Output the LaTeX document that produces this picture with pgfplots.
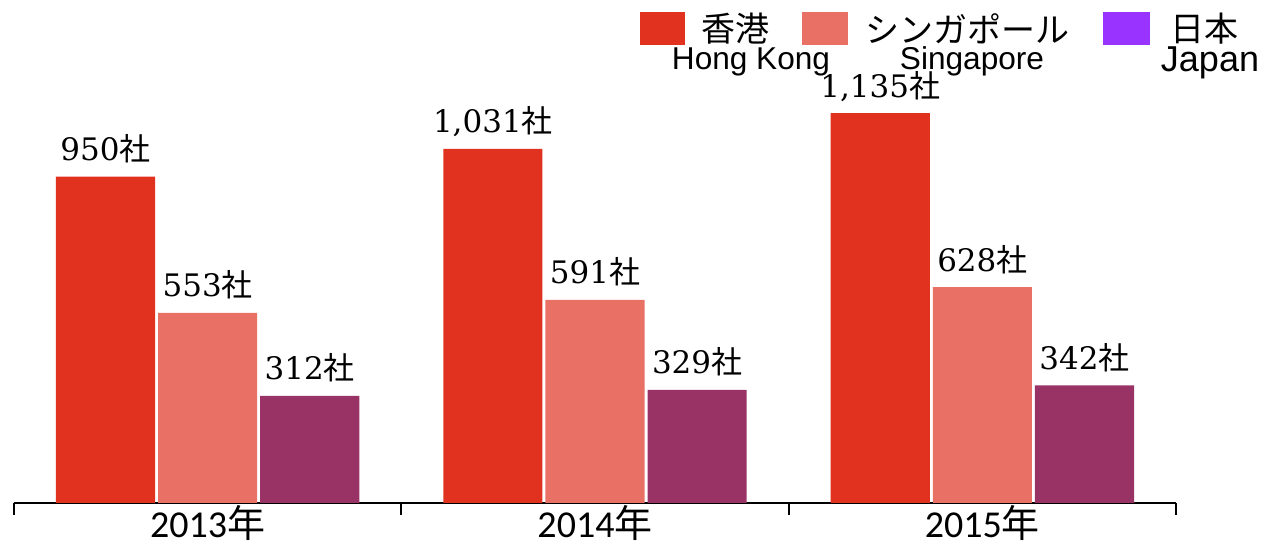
\documentclass[border=0pt]{standalone}
\usepackage{fontspec}
\usepackage{pgfplots}
\pgfplotsset{compat=1.18}
\setmainfont{Carlito}
\newfontfamily\cjk{Noto Sans CJK JP}
\newfontfamily\numfont{DejaVu Serif}
\newfontfamily\enfont{Liberation Sans}

\definecolor{hk}{RGB}{224,50,30}
\definecolor{sg}{RGB}{232,112,100}
\definecolor{jp}{RGB}{153,51,102}
\definecolor{jpkey}{RGB}{153,51,255}

\pgfplotstableread{
x    hk    sg   jp
0.5  950   553  312
1.5  1031  591  329
2.5  1135  628  342
}\shares

\begin{document}
\begin{tikzpicture}
\begin{axis}[
    name=ax,
    scale only axis,
    width=581pt, height=251.5pt,
    xmin=0, xmax=3,
    ymin=0, ymax=1464,
    clip=false,
    axis x line=bottom,
    axis y line=none,
    x axis line style={-, line width=1pt},
    xtick={0,1,2,3},
    xticklabels={2013{\cjk 年},2014{\cjk 年},2015{\cjk 年}},
    x tick label as interval,
    tick align=outside,
    major tick length=6pt,
    x tick style={line width=1pt, black},
    xticklabel style={font=\fontsize{19}{21}\selectfont, inner sep=0pt, text height=12pt, text depth=0pt, yshift=1pt},
    ybar,
    bar width=0.256,
    /pgf/number format/.cd, 1000 sep={,}, assume math mode=true,
    /pgfplots/.cd,
    nodes near coords={{\numfont\pgfmathprintnumber{\pgfplotspointmeta}}{\cjk 社}},
    nodes near coords style={font=\fontsize{15.5}{17}\selectfont, anchor=base, inner sep=0pt, yshift=8pt, black},
]
\addplot[fill=hk, draw=none, bar shift=-0.2636] table[x=x, y=hk] {\shares};
\addplot[fill=sg, draw=none, bar shift=0] table[x=x, y=sg] {\shares};
\addplot[fill=jp, draw=none, bar shift=0.2636] table[x=x, y=jp] {\shares};
\end{axis}

% legend
\begin{scope}[shift={(ax.south west)}, x=1pt, y=1pt]
  \fill[hk] (313,229) rectangle (335.5,245.5);
  \node[anchor=west, inner sep=0pt, font=\cjk\fontsize{17}{19}\selectfont] at (343.5,237) {香港};
  \node[anchor=base, inner sep=0pt, font=\enfont\fontsize{15.8}{18}\selectfont] at (368.5,216.5) {Hong Kong};
  \fill[sg] (394,229) rectangle (417,245.5);
  \node[anchor=west, inner sep=0pt, font=\cjk\fontsize{17}{19}\selectfont] at (425.5,237) {シンガポール};
  \node[anchor=base, inner sep=0pt, font=\enfont\fontsize{15.8}{18}\selectfont] at (479,216.5) {Singapore};
  \fill[jpkey] (544.5,229) rectangle (568,245.5);
  \node[anchor=west, inner sep=0pt, font=\cjk\fontsize{17}{19}\selectfont] at (578,237) {日本};
  \node[anchor=base, inner sep=0pt, font=\enfont\fontsize{18}{20}\selectfont] at (598,215.5) {Japan};
\end{scope}

\pgfresetboundingbox
\path[use as bounding box] (ax.south west) ++(-7pt,-20.5pt) rectangle ++(632pt,272pt);
\end{tikzpicture}
\end{document}
